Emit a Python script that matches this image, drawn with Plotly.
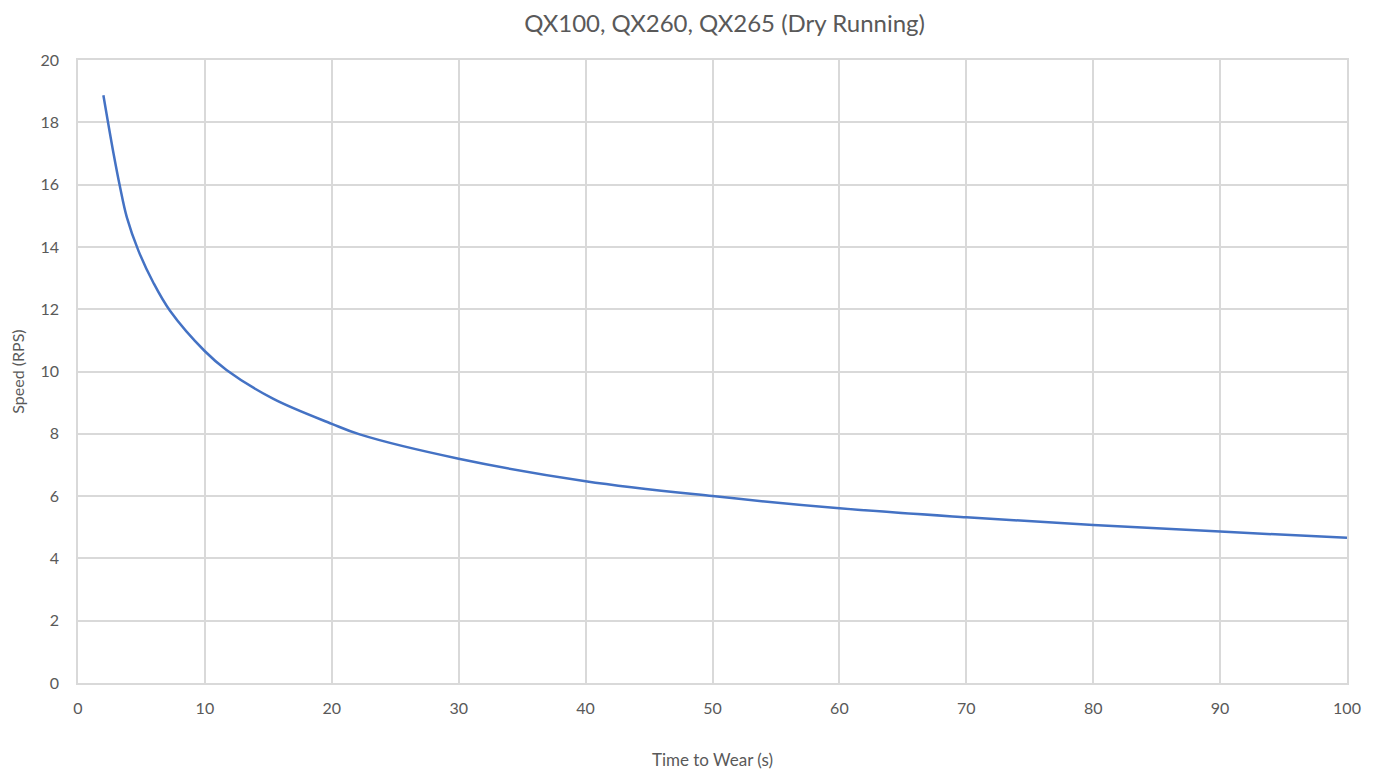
import plotly.graph_objects as go

time_s = [2.0, 2.8, 3.3, 3.85, 4.76, 5.94, 7.25, 10.0, 11.7, 15.4, 20.0, 22.2, 30, 40, 50, 60, 70, 80, 90, 100]
speed_rps = [18.87, 17.0, 15.95, 14.95, 13.88, 12.85, 11.95, 10.65, 10.05, 9.12, 8.32, 7.98, 7.2, 6.48, 6.0, 5.61, 5.32, 5.07, 4.86, 4.66]

x_ticks = list(range(0, 101, 10))
y_ticks = list(range(0, 21, 2))

font_family = "Lato, 'Open Sans', sans-serif"
tick_color = "#595959"
grid_color = "#d9d9d9"

fig = go.Figure()
fig.add_trace(go.Scatter(
    x=time_s, y=speed_rps, mode="lines",
    line=dict(color="#4472C4", width=2.5, shape="spline", smoothing=1.0),
    showlegend=False,
))

fig.update_layout(
    width=1381, height=771,
    margin=dict(l=70, r=42, t=52, b=96, autoexpand=False),
    paper_bgcolor="white", plot_bgcolor="white",
    title=dict(text="QX100, QX260, QX265 (Dry Running)", x=0.5095, xanchor="center",
               xref="paper", y=0.98, yanchor="middle",
               font=dict(family=font_family, size=24, color=tick_color)),
    font=dict(family=font_family, color=tick_color),
)
fig.update_xaxes(
    range=[0, 100], tickvals=x_ticks, showgrid=True, gridcolor=grid_color, gridwidth=1.5,
    zeroline=False, showline=True, linecolor=grid_color, linewidth=1.5, mirror=True,
    ticks="", tickfont=dict(size=16, color=tick_color), ticklabelstandoff=10,
    title=dict(text="Time to Wear (s)", font=dict(size=17, color=tick_color), standoff=38),
)
fig.update_yaxes(
    range=[0, 20], tickvals=y_ticks, showgrid=True, gridcolor=grid_color, gridwidth=1.5,
    zeroline=False, showline=True, linecolor=grid_color, linewidth=1.5, mirror=True,
    ticks="", tickfont=dict(size=16, color=tick_color), ticklabelstandoff=14,
    title=dict(text="Speed (RPS)", font=dict(size=16, color=tick_color), standoff=14),
)

fig.write_html("out.html")
